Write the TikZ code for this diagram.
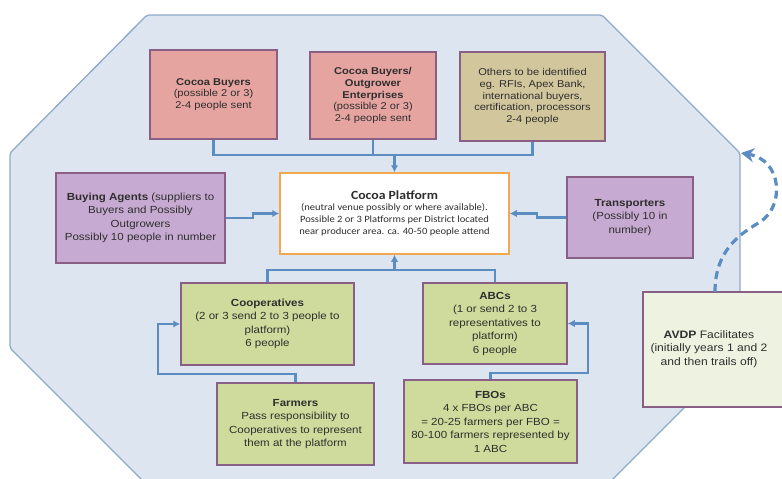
\documentclass[tikz,border=0pt]{standalone}
\usepackage{fontspec}
\setmainfont[FakeStretch=1.12]{Liberation Sans}
\newfontfamily\platfont[FakeStretch=1.1]{Carlito}
\usetikzlibrary{arrows.meta}
\definecolor{octfill}{HTML}{DDE6F0}
\definecolor{octdraw}{HTML}{8FA9C8}
\definecolor{pinkfill}{HTML}{E6A4A0}
\definecolor{khakifill}{HTML}{D2C69C}
\definecolor{lavfill}{HTML}{C7AAD1}
\definecolor{greenfill}{HTML}{CFDB9C}
\definecolor{avdpfill}{HTML}{EEF2E0}
\definecolor{boxdraw}{HTML}{8A5F86}
\definecolor{platdraw}{HTML}{F2A850}
\definecolor{conncol}{HTML}{5B8CC2}
\definecolor{txtcol}{HTML}{2E2E2E}
\tikzset{
  basebox/.style={draw=boxdraw, line width=1.5pt, inner sep=0pt, align=center, text=txtcol,
    font=\fontsize{10.3}{13.5}\selectfont},
  topbox/.style={basebox, font=\fontsize{9.9}{11.6}\selectfont},
  conn/.style={draw=conncol, line width=2.2pt},
  arr/.style={-{Latex[length=7pt,width=7.5pt]}},
  dashconn/.style={draw=conncol, line width=3.2pt, dash pattern=on 8pt off 5pt},
}
\begin{document}
\begin{tikzpicture}[x=1pt,y=-1pt]
\useasboundingbox (0,0) rectangle (782,479);
\fill[white] (0,0) rectangle (782,479);
\clip (0,0) rectangle (782,479);
% octagon
\draw[fill=octfill, draw=octdraw, line width=1.3pt, rounded corners=2pt]
  (147,15) -- (602,15) -- (740,153) -- (740,352) -- (608,484) -- (146,484) -- (10,348) -- (10,153) -- cycle;
\coordinate (octr) at (741,153);
% top row
\node[topbox, fill=pinkfill, minimum width=127pt, minimum height=89pt] (cb) at (213.5,94.5)
  {\textbf{Cocoa Buyers}\\(possible 2 or 3)\\2-4 people sent};
\node[topbox, fill=pinkfill, minimum width=126pt, minimum height=87pt] (cbo) at (373,95.5)
  {\textbf{Cocoa Buyers/}\\\textbf{Outgrower}\\\textbf{Enterprises}\\(possible 2 or 3)\\2-4 people sent};
\node[topbox, fill=khakifill, minimum width=145pt, minimum height=89pt] (oth) at (532.5,96.5)
  {Others to be identified\\eg. RFIs, Apex Bank,\\international buyers,\\certification, processors\\2-4 people};
% middle row
\node[basebox, fill=lavfill, minimum width=169pt, minimum height=90pt] (ba) at (140.5,218)
  {\textbf{Buying Agents} (suppliers to\\Buyers and Possibly\\Outgrowers\\Possibly 10 people in number};
\node[draw=platdraw, line width=1.5pt, fill=white, inner sep=0pt, align=center, text=txtcol,
  minimum width=229pt, minimum height=81pt] (pl) at (394.5,213.5)
  {\platfont\fontsize{12.5}{15}\selectfont\textbf{Cocoa Platform}\\[-1.5pt]
   \platfont\fontsize{9.6}{14}\selectfont (neutral venue possibly or where available).\\
   \platfont\fontsize{9.6}{14.5}\selectfont Possible 2 or 3 Platforms per District located\\
   \platfont\fontsize{9.6}{13.5}\selectfont near producer area. ca. 40-50 people attend};
\node[basebox, fill=lavfill, minimum width=126pt, minimum height=81pt] (tr) at (630,217.5)
  {\textbf{Transporters}\\(Possibly 10 in\\number)};
% lower rows
\node[basebox, fill=greenfill, minimum width=173pt, minimum height=82pt] (coop) at (267.5,324)
  {\textbf{Cooperatives}\\(2 or 3 send 2 to 3 people to\\platform)\\6 people};
\node[basebox, fill=greenfill, minimum width=144pt, minimum height=81pt] (abc) at (495,323.5)
  {\textbf{ABCs}\\(1 or send 2 to 3\\representatives to\\platform)\\6 people};
\node[basebox, fill=greenfill, minimum width=157pt, minimum height=82pt] (farm) at (295.5,424)
  {\textbf{Farmers}\\Pass responsibility to\\Cooperatives to represent\\them at the platform};
\node[basebox, fill=greenfill, minimum width=173pt, minimum height=83pt] (fbo) at (490.5,421.5)
  {\textbf{FBOs}\\4 x FBOs per ABC\\= 20-25 farmers per FBO =\\80-100 farmers represented by\\1 ABC};
% AVDP
\node[draw=boxdraw, line width=1.5pt, fill=avdpfill, minimum width=147pt, minimum height=115pt, inner sep=0pt] (avdp) at (716.5,349.5) {};
\node[align=center, text=txtcol, inner sep=0pt, font=\fontsize{10.8}{13.5}\selectfont] (avdpt) at (709,349)
  {\textbf{AVDP} Facilitates\\(initially years 1 and 2\\and then trails off)};
% connectors top
\coordinate (jt) at (394.5,155);
\draw[conn] (cb.south) |- (jt) -| (oth.south);
\draw[conn] (cbo.south) |- (jt);
\draw[conn, arr] (jt) -- (pl.north);
% connectors bottom
\coordinate (jb) at (394.5,270);
\draw[conn] (coop.north) |- (jb) -| (abc.north);
\draw[conn, arr] (jb) -- (pl.south);
% side arrows
\draw[conn, arr] (ba.east) -- ++(27,0) |- (pl.west);
\draw[conn, arr] (tr.west) -- ++(-29,0) |- (pl.east);
% farmers -> coop
\coordinate (fbend) at (158,374);
\draw[conn, arr] (farm.north) |- (fbend) |- (coop.west);
% fbo -> abc
\coordinate (abend) at (588,373);
\draw[conn, arr] (fbo.north) |- (abend) |- (abc.east);
% dashed arrow
\draw[dashconn, -{Stealth[length=13pt,width=14pt]}]
  (715,292) .. controls (715,250) and (740,234) .. (760,222)
  .. controls (785,206) and (782,160) .. (octr);
\end{tikzpicture}
\end{document}
